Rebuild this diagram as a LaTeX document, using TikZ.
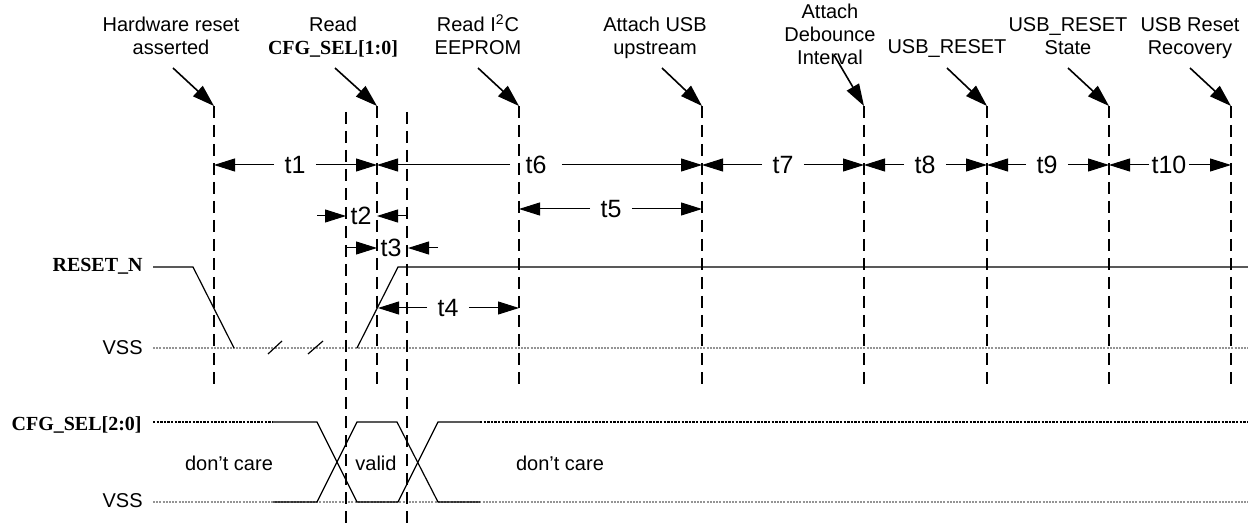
\documentclass[tikz,border=0pt]{standalone}
\usepackage{fontspec}
\setmainfont{Liberation Sans}
\newfontfamily\tmsfont{Liberation Serif}
\usetikzlibrary{arrows.meta}
\begin{document}
\begin{tikzpicture}[x=0.5pt,y=-0.5pt,
  lbl/.style={inner sep=0pt, anchor=base, font=\fontsize{10}{11.5}\selectfont},
  body/.style={inner sep=0pt, font=\fontsize{10}{12}\selectfont},
  tlbl/.style={inner ysep=0pt, inner xsep=5pt, font=\fontsize{12.5}{14}\selectfont},
  guide/.style={line width=1pt, dash pattern=on 6pt off 3.5pt},
  tarr/.style={line width=0.5pt, -{Triangle[length=10.5pt,width=6.5pt]}},
  pointer/.style={line width=0.8pt, -{Triangle[length=11pt,width=7pt]}},
  vss/.style={line width=1pt, black!42, dash pattern=on 1pt off 0.6pt},
  dontcare/.style={line width=0.7pt, dash pattern=on 1.2pt off 0.6pt},
  wave/.style={line width=0.6pt},
  sig/.style={inner sep=0pt, anchor=base east, font=\tmsfont\bfseries\fontsize{10}{12}\selectfont},
  rail/.style={inner sep=0pt, anchor=base east, font=\fontsize{10}{12}\selectfont}]
\useasboundingbox (0,0) rectangle (1248,529);

% ---------- rail labels ----------
\node[sig]  (rstlbl) at (143,272) {RESET\_N};
\node[rail] (vss1)   at (143,355) {VSS};
\node[sig]  (cfglbl) at (142,430) {CFG\_SEL[2:0]};
\node[rail] (vss2)   at (143,507) {VSS};

% ---------- reference rails ----------
\draw[vss] (153,348) -- (1248,348);
\draw[vss] (153,502) -- (1248,502);
\draw[dontcare] (153,422) -- (273,422);
\draw[dontcare] (480,422) -- (1248,422);

% ---------- RESET_N waveform ----------
\draw[wave] (153,267) -- (193,267) -- (234,348);
\draw[wave] (357,348) -- (398,267) -- (1248,267);
\draw[wave] (268,354) -- (282,341);
\draw[wave] (308,354) -- (323,341);

% ---------- CFG_SEL waveform ----------
\draw[wave] (273,422) -- (317,422) -- (357,502) -- (398,502) -- (438,422) -- (480,422);
\draw[wave] (273,502) -- (317,502) -- (357,422) -- (397,422) -- (438,502) -- (480,502);

\node[body] (dc1) at (229,463) {don't care};
\node[body] (val) at (376,463) {valid};
\node[body] (dc2) at (560,463) {don't care};

% ---------- vertical guide lines ----------
\foreach \x/\n in {214/L1,377/L2,519/L3,702/L4,864/L5,987/L6,1109/L7,1231/L8}{
  \coordinate (\n top) at (\x,106);
  \coordinate (\n bot) at (\x,388);
  \draw[guide] (\n top) -- (\n bot);
}
\coordinate (Atop) at (346,112); \coordinate (Abot) at (346,529);
\coordinate (Btop) at (407,112); \coordinate (Bbot) at (407,529);
\draw[guide] (Atop) -- (Abot);
\draw[guide] (Btop) -- (Bbot);

% ---------- event labels ----------
\node[lbl] (e1) at (171,32) {\begin{tabular}[t]{@{}c@{}}Hardware reset\\asserted\end{tabular}};
\node[lbl] (e2) at (333,32) {\begin{tabular}[t]{@{}c@{}}Read\\{\tmsfont\bfseries CFG\_SEL[1:0]}\end{tabular}};
\node[lbl] (e3) at (478,32) {\begin{tabular}[t]{@{}c@{}}Read I\textsuperscript{2}C\\EEPROM\end{tabular}};
\node[lbl] (e4) at (655,32) {\begin{tabular}[t]{@{}c@{}}Attach USB\\upstream\end{tabular}};
\node[lbl] (e5) at (830,19) {\begin{tabular}[t]{@{}c@{}}Attach\\Debounce\\Interval\end{tabular}};
\node[lbl] (e6) at (947,54) {USB\_RESET};
\node[lbl] (e7) at (1068,32) {\begin{tabular}[t]{@{}c@{}}USB\_RESET\\State\end{tabular}};
\node[lbl] (e8) at (1190,32) {\begin{tabular}[t]{@{}c@{}}USB Reset\\Recovery\end{tabular}};

\coordinate (p1) at (173,68);
\coordinate (p2) at (335,68);
\coordinate (p3) at (478,68);
\coordinate (p4) at (662,68);
\coordinate (p5) at (834,55);
\coordinate (p6) at (947,68);
\coordinate (p7) at (1068,68);
\coordinate (p8) at (1190,68);
\draw[pointer] (p1) -- (L1top);
\draw[pointer] (p2) -- (L2top);
\draw[pointer] (p3) -- (L3top);
\draw[pointer] (p4) -- (L4top);
\draw[pointer] (p5) -- (L5top);
\draw[pointer] (p6) -- (L6top);
\draw[pointer] (p7) -- (L7top);
\draw[pointer] (p8) -- (L8top);

% ---------- timing intervals ----------
\node[tlbl] (t1) at (295,165) {t1};
\draw[tarr] (t1.west) -- (214,165);
\draw[tarr] (t1.east) -- (377,165);

\node[tlbl, inner xsep=7.5pt] (t6) at (536,165) {t6};
\draw[tarr] (t6.west) -- (377,165);
\draw[tarr] (t6.east) -- (702,165);

\node[tlbl] (t7) at (783,165) {t7};
\draw[tarr] (t7.west) -- (702,165);
\draw[tarr] (t7.east) -- (864,165);

\node[tlbl] (t8) at (925,165) {t8};
\draw[tarr] (t8.west) -- (864,165);
\draw[tarr] (t8.east) -- (987,165);

\node[tlbl] (t9) at (1047,165) {t9};
\draw[tarr] (t9.west) -- (987,165);
\draw[tarr] (t9.east) -- (1109,165);

\node[tlbl, inner xsep=1pt] (t10) at (1169,165) {t10};
\draw[tarr] (t10.west) -- (1109,165);
\draw[tarr] (t10.east) -- (1231,165);

\node[tlbl] (t5) at (611,209) {t5};
\draw[tarr] (t5.west) -- (519,209);
\draw[tarr] (t5.east) -- (702,209);

\node[tlbl, inner xsep=0pt] (t2) at (361,216) {t2};
\coordinate (t2a) at (317,216); \coordinate (t2b) at (346,216);
\coordinate (t2c) at (407,216); \coordinate (t2d) at (377,216);
\draw[tarr] (t2a) -- (t2b);
\draw[tarr] (t2c) -- (t2d);

\node[tlbl, inner xsep=0pt] (t3) at (391,248) {t3};
\coordinate (t3a) at (347,248); \coordinate (t3b) at (377,248);
\coordinate (t3c) at (438,248); \coordinate (t3d) at (408,248);
\draw[tarr] (t3a) -- (t3b);
\draw[tarr] (t3c) -- (t3d);

\node[tlbl] (t4) at (448,308) {t4};
\draw[tarr] (t4.west) -- (378,308);
\draw[tarr] (t4.east) -- (519,308);
\end{tikzpicture}
\end{document}
